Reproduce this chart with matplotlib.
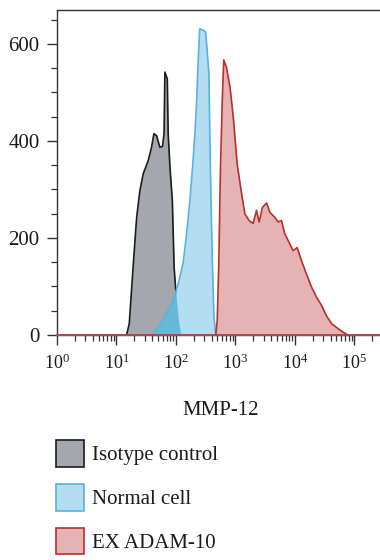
import numpy as np
import matplotlib

matplotlib.use("Agg")
import matplotlib.pyplot as plt
from matplotlib.patches import Patch
from matplotlib.ticker import FixedLocator, FuncFormatter, LogLocator, NullFormatter

plt.rcParams["font.family"] = ["Liberation Serif", "DejaVu Serif"]
plt.rcParams["mathtext.fontset"] = "custom"
plt.rcParams["mathtext.rm"] = "Liberation Serif"

# Histogram outlines: log10(intensity) and counts
ISO_LOG = [1.17, 1.215, 1.28, 1.34, 1.395, 1.45, 1.535, 1.59, 1.63, 1.675, 1.73,
           1.775, 1.80, 1.815, 1.855, 1.87, 1.90, 1.94, 1.97, 2.01, 2.05, 2.085]
ISO_CNT = [0, 23, 140, 243, 298, 332, 360, 387, 415, 411, 387,
           389, 415, 542, 528, 415, 346, 277, 140, 71, 23, 0]

NORM_LOG = [1.61, 1.73, 1.84, 1.955, 2.04, 2.12, 2.18, 2.235, 2.28, 2.32, 2.35,
            2.375, 2.40, 2.47, 2.50, 2.525, 2.555, 2.57, 2.59, 2.615, 2.64, 2.67]
NORM_CNT = [0, 20, 44, 71, 106, 147, 209, 277, 346, 415, 484,
            566, 631, 628, 624, 587, 539, 415, 277, 140, 37, 0]

ADAM_LOG = [2.67, 2.695, 2.72, 2.75, 2.78, 2.805, 2.85, 2.91, 2.965, 3.03, 3.105,
            3.16, 3.23, 3.30, 3.355, 3.40, 3.455, 3.525, 3.58, 3.66, 3.72, 3.775,
            3.83, 3.915, 3.97, 4.04, 4.11, 4.195, 4.28, 4.365, 4.45, 4.53, 4.62,
            4.73, 4.81, 4.895]
ADAM_CNT = [0, 30, 140, 346, 484, 567, 552, 511, 449, 353, 291,
            250, 236, 230, 257, 233, 263, 272, 253, 243, 233, 236,
            209, 188, 174, 180, 154, 126, 99, 78, 61, 40, 23,
            13, 6, 0]

LABELS = ["Isotype control", "Normal cell", "EX ADAM-10"]
FILLS = ["#a4a7ae", "#b4ddf2", "#e5b3b3"]
EDGES = ["#1c1c1c", "#55b3e0", "#b8302c"]
OVERLAP = "#5ab1d6"

XMIN, XMAX = 1, 10 ** 5.5
YMAX = 670

fig = plt.figure(figsize=(3.8, 5.6), dpi=100)
ax = fig.add_axes([57 / 380, 225 / 560, 327 / 380, 325 / 560])

iso_x = 10 ** np.array(ISO_LOG)
norm_x = 10 ** np.array(NORM_LOG)
adam_x = 10 ** np.array(ADAM_LOG)

# isotype
ax.fill_between(iso_x, ISO_CNT, 0, color=FILLS[0], lw=0, zorder=1)
ax.plot(iso_x, ISO_CNT, color=EDGES[0], lw=1.2, zorder=2)

# normal cell (darker where it sits over the isotype)
ax.fill_between(norm_x, NORM_CNT, 0, color=FILLS[1], lw=0, zorder=3)
grid = np.linspace(ISO_LOG[0], ISO_LOG[-1], 400)
both = np.minimum(np.interp(grid, ISO_LOG, ISO_CNT),
                  np.interp(grid, NORM_LOG, NORM_CNT, left=0, right=0))
ax.fill_between(10 ** grid, both, 0, color=OVERLAP, alpha=0.85, lw=0, zorder=3.5)
ax.plot(norm_x, NORM_CNT, color=EDGES[1], lw=1.2, zorder=4)

# EX ADAM-10
ax.fill_between(adam_x, ADAM_CNT, 0, color=FILLS[2], lw=0, zorder=5)
ax.plot(adam_x, ADAM_CNT, color=EDGES[2], lw=1.2, zorder=6)

# baselines along zero
ax.plot([XMIN, XMAX], [0, 0], color=EDGES[1], lw=1.2, zorder=6.5, clip_on=False)
ax.plot([XMIN, XMAX], [0, 0], color=EDGES[2], lw=1.1, zorder=7, clip_on=False)

ax.set_xscale("log")
ax.set_xlim(XMIN, XMAX)
ax.set_ylim(0, YMAX)

ax.xaxis.set_major_locator(FixedLocator([10 ** k for k in range(6)]))
ax.xaxis.set_major_formatter(FuncFormatter(lambda v, p: r"$\mathregular{10^{%d}}$" % round(np.log10(v))))
ax.xaxis.set_minor_locator(LogLocator(base=10, subs=np.arange(2, 10)))
ax.xaxis.set_minor_formatter(NullFormatter())
ax.yaxis.set_major_locator(FixedLocator([0, 200, 400, 600]))
ax.yaxis.set_minor_locator(FixedLocator(np.arange(50, 700, 50)))

SPINE = "#333333"
for s in ax.spines.values():
    s.set_color(SPINE)
    s.set_linewidth(1.0)
ax.tick_params(which="major", direction="out", length=7, width=1, color=SPINE,
               labelcolor="#1a1a1a")
ax.tick_params(which="minor", direction="out", length=4, width=0.9, color=SPINE)
ax.tick_params(axis="y", which="major", labelsize=15, pad=5.5)
ax.tick_params(axis="x", which="major", labelsize=13, pad=6.5)

ax.set_xlabel("MMP-12", fontsize=15, color="#1a1a1a", labelpad=20)

handles = [Patch(facecolor=f, edgecolor=e, lw=1.2) for f, e in zip(FILLS, EDGES)]
fig.legend(handles, LABELS, loc="upper left", bbox_to_anchor=(56 / 380, 1 - 440 / 560),
           frameon=False, fontsize=15, handlelength=1.35, handleheight=1.6,
           handletextpad=0.38, labelspacing=0.82, borderpad=0, borderaxespad=0,
           labelcolor="#1a1a1a")

fig.savefig("out.png", dpi=100, facecolor="white")
